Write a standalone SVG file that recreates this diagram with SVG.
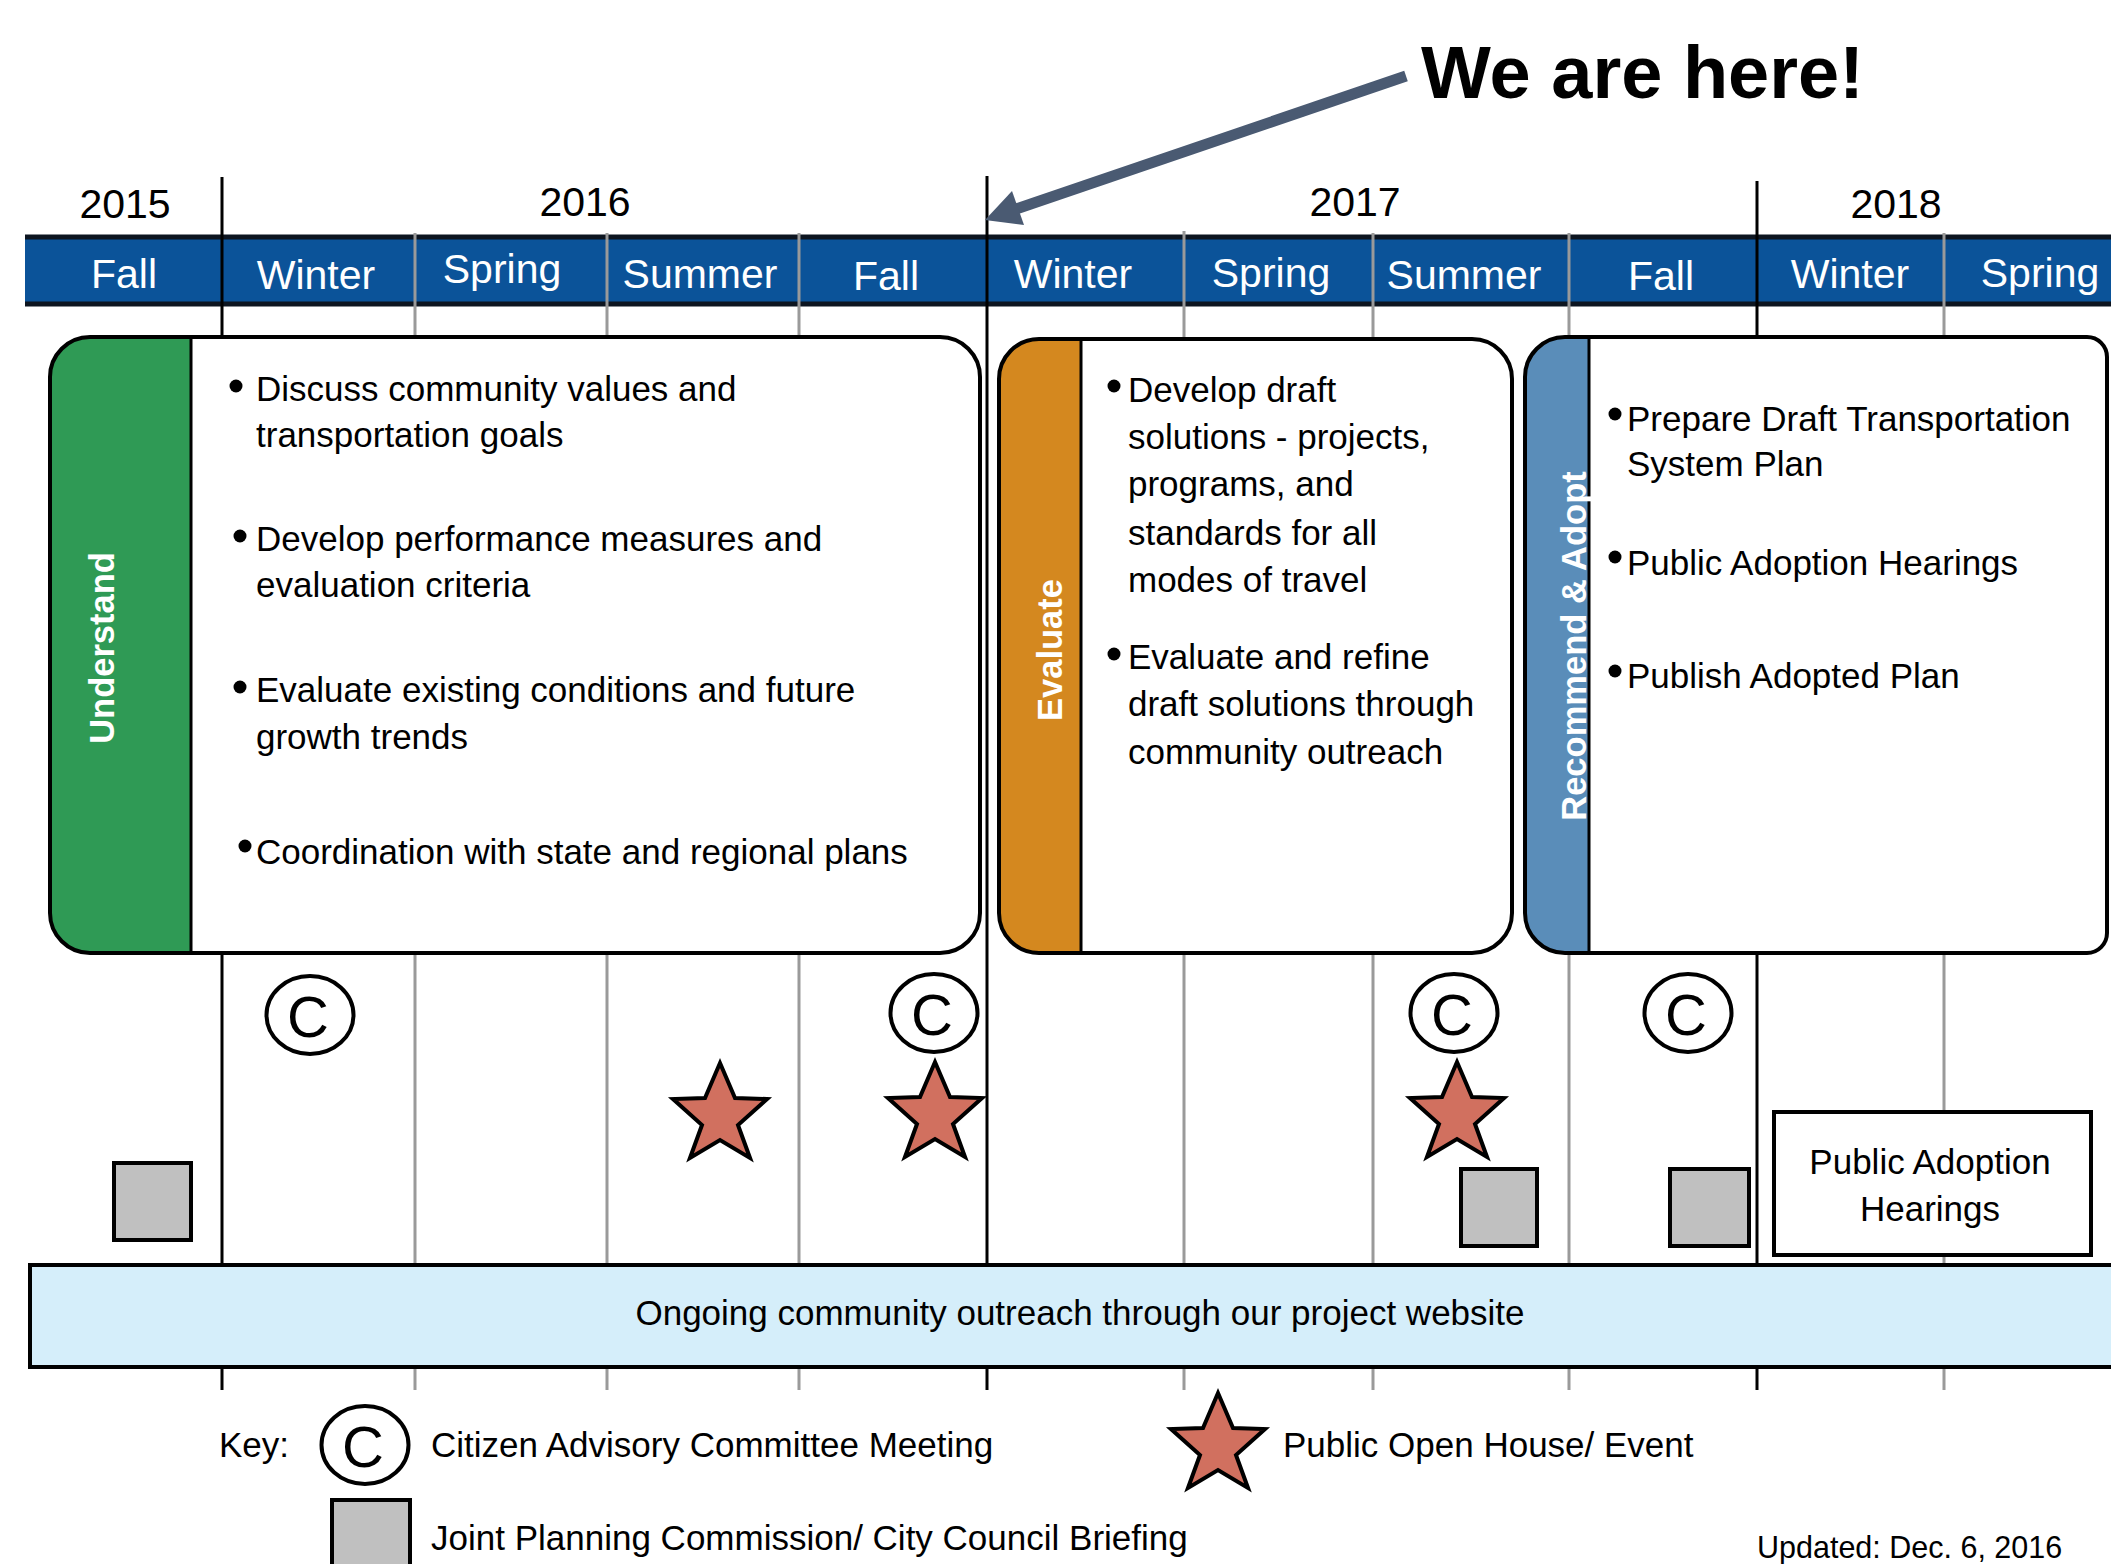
<svg xmlns="http://www.w3.org/2000/svg" width="2111" height="1564" viewBox="0 0 2111 1564">
<defs>
<style>
.t{font-family:"Liberation Sans",Arial,sans-serif;fill:#000}
.body{font-size:35px}
.season{font-size:41px;fill:#fff;text-anchor:middle}
.year{font-size:41px;text-anchor:middle}
.phase{font-size:34.5px;font-weight:bold;fill:#fff;text-anchor:middle}
.yl{stroke:#000;stroke-width:3}
.ql{stroke:#9a9a9a;stroke-width:3}
.box{fill:none;stroke:#000;stroke-width:4}
.boxbg{fill:#fff}
.sep{stroke:#000;stroke-width:3}
.cam{fill:#fff;stroke:#000;stroke-width:4}
.camt{font-size:58px;text-anchor:middle}
.star{fill:#d1705f;stroke:#000;stroke-width:4;stroke-linejoin:miter}
.sq{fill:#c0c0c0;stroke:#000;stroke-width:4}
.bul{fill:#000}
</style>
<path id="starShape" d="M0,-51 L15,-16 L47,-15 L18,11 L30,44 L0,26 L-30,44 L-18,11 L-47,-15 L-15,-16 Z"/>
</defs>
<rect width="2111" height="1564" fill="#fff"/>

<g id="season-band">
<rect x="25" y="237" width="2090" height="67" fill="#0b5399"/>
<line x1="25" y1="237" x2="2111" y2="237" stroke="#0d1520" stroke-width="5"/>
<line x1="25" y1="304" x2="2111" y2="304" stroke="#0d1520" stroke-width="5"/>
</g>

<g id="gridlines">
<line class="ql" x1="415" y1="233" x2="415" y2="1390"/>
<line class="ql" x1="607" y1="233" x2="607" y2="1390"/>
<line class="ql" x1="799" y1="233" x2="799" y2="1390"/>
<line class="ql" x1="1184" y1="231" x2="1184" y2="1390"/>
<line class="ql" x1="1373" y1="233" x2="1373" y2="1390"/>
<line class="ql" x1="1569" y1="233" x2="1569" y2="1390"/>
<line class="ql" x1="1944" y1="233" x2="1944" y2="1390"/>
<line class="yl" x1="222" y1="177" x2="222" y2="1390"/>
<line class="yl" x1="987" y1="176" x2="987" y2="1390"/>
<line class="yl" x1="1757" y1="181" x2="1757" y2="1390"/>
</g>

<g id="year-labels">
<text class="t year" x="125" y="218">2015</text>
<text class="t year" x="585" y="216">2016</text>
<text class="t year" x="1355" y="216">2017</text>
<text class="t year" x="1896" y="218">2018</text>
</g>

<g id="season-labels">
<text class="t season" x="124" y="288">Fall</text>
<text class="t season" x="316" y="289">Winter</text>
<text class="t season" x="502" y="283">Spring</text>
<text class="t season" x="700" y="288">Summer</text>
<text class="t season" x="886" y="290">Fall</text>
<text class="t season" x="1073" y="288">Winter</text>
<text class="t season" x="1271" y="287">Spring</text>
<text class="t season" x="1464" y="289">Summer</text>
<text class="t season" x="1661" y="290">Fall</text>
<text class="t season" x="1850" y="288">Winter</text>
<text class="t season" x="2040" y="287">Spring</text>
</g>

<g id="phase-understand">
<rect class="boxbg" x="50" y="337" width="930" height="616" rx="40"/>
<path d="M90,337 H191 V953 H90 A40,40 0 0 1 50,913 V377 A40,40 0 0 1 90,337 Z" fill="#2f9a55"/>
<line class="sep" x1="191" y1="337" x2="191" y2="953"/>
<rect class="box" x="50" y="337" width="930" height="616" rx="40"/>
<text class="t phase" transform="translate(114,648) rotate(-90)">Understand</text>
<circle class="bul" cx="236" cy="386" r="6.5"/>
<circle class="bul" cx="240" cy="536" r="6.5"/>
<circle class="bul" cx="240" cy="687" r="6.5"/>
<circle class="bul" cx="245" cy="846" r="6.5"/>
<text class="t body" x="256" y="401">Discuss community values and</text>
<text class="t body" x="256" y="447">transportation goals</text>
<text class="t body" x="256" y="551">Develop performance measures and</text>
<text class="t body" x="256" y="597">evaluation criteria</text>
<text class="t body" x="256" y="702">Evaluate existing conditions and future</text>
<text class="t body" x="256" y="749">growth trends</text>
<text class="t body" x="256" y="864">Coordination with state and regional plans</text>
</g>

<g id="phase-evaluate">
<rect class="boxbg" x="999" y="339" width="513" height="614" rx="40"/>
<path d="M1039,339 H1081 V953 H1039 A40,40 0 0 1 999,913 V379 A40,40 0 0 1 1039,339 Z" fill="#d4881f"/>
<line class="sep" x1="1081" y1="339" x2="1081" y2="953"/>
<rect class="box" x="999" y="339" width="513" height="614" rx="40"/>
<text class="t phase" transform="translate(1062,650) rotate(-90)">Evaluate</text>
<circle class="bul" cx="1114" cy="386" r="6.5"/>
<circle class="bul" cx="1114" cy="654" r="6.5"/>
<text class="t body" x="1128" y="402">Develop draft</text>
<text class="t body" x="1128" y="449">solutions - projects,</text>
<text class="t body" x="1128" y="496">programs, and</text>
<text class="t body" x="1128" y="545">standards for all</text>
<text class="t body" x="1128" y="592">modes of travel</text>
<text class="t body" x="1128" y="669">Evaluate and refine</text>
<text class="t body" x="1128" y="716">draft solutions through</text>
<text class="t body" x="1128" y="764">community outreach</text>
</g>

<g id="phase-recommend">
<path d="M1565,337 H2087 A20,20 0 0 1 2107,357 V933 A20,20 0 0 1 2087,953 H1565 A40,40 0 0 1 1525,913 V377 A40,40 0 0 1 1565,337 Z" fill="#fff"/>
<path d="M1565,337 H1589 V953 H1565 A40,40 0 0 1 1525,913 V377 A40,40 0 0 1 1565,337 Z" fill="#5a8db9"/>
<line class="sep" x1="1589" y1="337" x2="1589" y2="953"/>
<path class="box" d="M1565,337 H2087 A20,20 0 0 1 2107,357 V933 A20,20 0 0 1 2087,953 H1565 A40,40 0 0 1 1525,913 V377 A40,40 0 0 1 1565,337 Z"/>
<text class="t phase" style="font-size:34.5px" transform="translate(1586,646) rotate(-90)">Recommend &amp; Adopt</text>
<circle class="bul" cx="1615" cy="414" r="6.5"/>
<circle class="bul" cx="1615" cy="557" r="6.5"/>
<circle class="bul" cx="1615" cy="671" r="6.5"/>
<text class="t body" x="1627" y="431">Prepare Draft Transportation</text>
<text class="t body" x="1627" y="476">System Plan</text>
<text class="t body" x="1627" y="575">Public Adoption Hearings</text>
<text class="t body" x="1627" y="688">Publish Adopted Plan</text>
</g>

<g id="cac-meeting-1"><ellipse class="cam" cx="310" cy="1015" rx="43.5" ry="39"/><text class="t camt" x="308" y="1037">C</text></g>
<g id="cac-meeting-2"><ellipse class="cam" cx="934" cy="1013" rx="43.5" ry="39"/><text class="t camt" x="932" y="1035">C</text></g>
<g id="cac-meeting-3"><ellipse class="cam" cx="1454" cy="1013" rx="43.5" ry="39"/><text class="t camt" x="1452" y="1035">C</text></g>
<g id="cac-meeting-4"><ellipse class="cam" cx="1688" cy="1013" rx="43.5" ry="39"/><text class="t camt" x="1686" y="1035">C</text></g>

<g id="open-house-1"><use href="#starShape" class="star" x="720" y="1114"/></g>
<g id="open-house-2"><use href="#starShape" class="star" x="935" y="1113"/></g>
<g id="open-house-3"><use href="#starShape" class="star" x="1457" y="1113"/></g>

<g id="briefing-1"><rect class="sq" x="114" y="1163" width="77" height="77"/></g>
<g id="briefing-2"><rect class="sq" x="1461" y="1169" width="76" height="77"/></g>
<g id="briefing-3"><rect class="sq" x="1670" y="1169" width="79" height="77"/></g>

<g id="public-adoption-hearings">
<rect x="1774" y="1112" width="317" height="143" fill="#fff" stroke="#000" stroke-width="4"/>
<text class="t body" x="1930" y="1174" text-anchor="middle">Public Adoption</text>
<text class="t body" x="1930" y="1221" text-anchor="middle">Hearings</text>
</g>

<g id="outreach-bar">
<rect x="30" y="1265" width="2090" height="102" fill="#d5eefa" stroke="#000" stroke-width="4"/>
<text class="t body" x="1080" y="1325" text-anchor="middle">Ongoing community outreach through our project website</text>
</g>

<g id="legend">
<text class="t body" x="219" y="1457">Key:</text>
<ellipse class="cam" cx="365" cy="1445" rx="43.5" ry="39"/>
<text class="t camt" x="363" y="1467">C</text>
<text class="t body" x="431" y="1457">Citizen Advisory Committee Meeting</text>
<use href="#starShape" class="star" x="1218" y="1444"/>
<text class="t body" x="1283" y="1457">Public Open House/ Event</text>
<rect class="sq" x="332" y="1500" width="78" height="80"/>
<text class="t body" x="431" y="1550">Joint Planning Commission/ City Council Briefing</text>
<text class="t" style="font-size:30.5px" x="1757" y="1558">Updated: Dec. 6, 2016</text>
</g>

<g id="annotation">
<text class="t" style="font-size:74px;font-weight:bold" x="1421" y="98">We are here!</text>
</g>

<g id="connectors">
<line x1="1406" y1="76" x2="1016" y2="209" stroke="#4a5a72" stroke-width="11"/>
<polygon points="985,220 1012,191 1024,225" fill="#4a5a72"/>
</g>
</svg>
